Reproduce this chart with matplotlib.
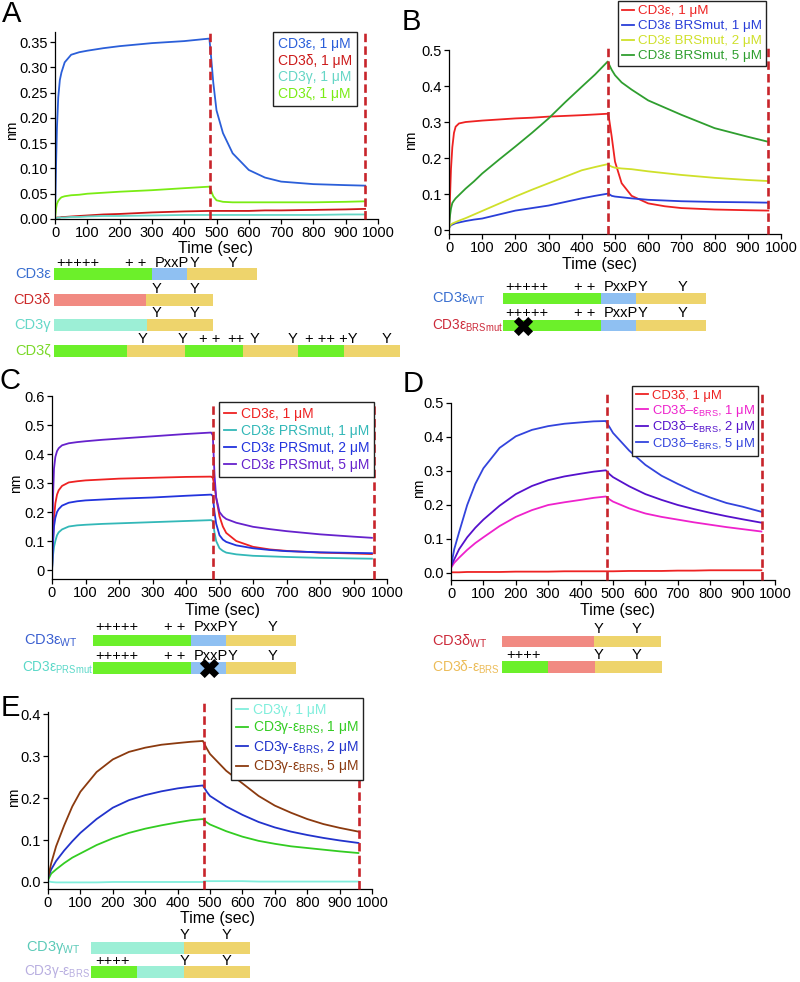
import numpy as np
import matplotlib
matplotlib.use('Agg')
import matplotlib.pyplot as plt
from matplotlib.ticker import MultipleLocator, FormatStrFormatter

plt.rcParams['font.family'] = ['Liberation Sans', 'DejaVu Sans']
plt.rcParams['mathtext.fontset'] = 'custom'
plt.rcParams['mathtext.rm'] = 'Liberation Sans'
plt.rcParams['mathtext.it'] = 'Liberation Sans:italic'
plt.rcParams['mathtext.bf'] = 'Liberation Sans:bold'

# ---------------- data ----------------
phase_ends = [480, 960]

# Panel A
tA = [0, 3, 6, 10, 15, 20, 30, 50, 75, 100, 150, 200, 300, 400, 478, 482, 490, 500, 520, 550, 600, 650, 700, 800, 900, 960]
A_eps = [0, 0.10, 0.18, 0.24, 0.275, 0.29, 0.31, 0.325, 0.33, 0.333, 0.338, 0.342, 0.348, 0.352, 0.357, 0.33, 0.27, 0.215, 0.17, 0.13, 0.097, 0.082, 0.074, 0.069, 0.067, 0.066]
A_del = [0.002, 0.002, 0.003, 0.003, 0.003, 0.004, 0.004, 0.005, 0.006, 0.007, 0.009, 0.010, 0.013, 0.015, 0.016, 0.016, 0.016, 0.016, 0.016, 0.016, 0.016, 0.017, 0.017, 0.018, 0.019, 0.020]
A_gam = [0.002, 0.002, 0.002, 0.003, 0.003, 0.003, 0.003, 0.004, 0.004, 0.005, 0.006, 0.006, 0.007, 0.008, 0.008, 0.008, 0.008, 0.008, 0.008, 0.008, 0.008, 0.008, 0.008, 0.008, 0.009, 0.009]
A_zet = [0, 0.02, 0.03, 0.036, 0.04, 0.043, 0.045, 0.047, 0.048, 0.05, 0.052, 0.054, 0.057, 0.061, 0.064, 0.058, 0.045, 0.037, 0.034, 0.033, 0.033, 0.033, 0.033, 0.033, 0.034, 0.035]
A_labels = ['CD3ε, 1 μM', 'CD3δ, 1 μM', 'CD3γ, 1 μM', 'CD3ζ, 1 μM']

# Panel B
tB = [0, 3, 6, 10, 15, 20, 30, 50, 75, 100, 150, 200, 250, 300, 350, 400, 440, 478, 482, 490, 500, 520, 550, 600, 650, 700, 800, 900, 962]
B_eps = [0, 0.09, 0.17, 0.23, 0.27, 0.287, 0.296, 0.300, 0.302, 0.304, 0.307, 0.310, 0.312, 0.315, 0.317, 0.319, 0.321, 0.323, 0.31, 0.26, 0.19, 0.13, 0.095, 0.074, 0.066, 0.061, 0.057, 0.055, 0.054]
B_brs1 = [0.005, 0.01, 0.013, 0.015, 0.017, 0.019, 0.021, 0.025, 0.029, 0.032, 0.043, 0.054, 0.061, 0.068, 0.078, 0.088, 0.095, 0.101, 0.1, 0.095, 0.093, 0.091, 0.088, 0.084, 0.082, 0.08, 0.078, 0.077, 0.076]
B_brs2 = [0.005, 0.012, 0.015, 0.018, 0.02, 0.022, 0.026, 0.033, 0.043, 0.053, 0.073, 0.093, 0.112, 0.13, 0.148, 0.166, 0.175, 0.183, 0.18, 0.176, 0.173, 0.171, 0.169, 0.163, 0.158, 0.153, 0.145, 0.139, 0.136]
B_brs5 = [0.01, 0.04, 0.06, 0.075, 0.082, 0.088, 0.097, 0.115, 0.135, 0.157, 0.195, 0.232, 0.27, 0.31, 0.355, 0.398, 0.432, 0.468, 0.46, 0.445, 0.43, 0.41, 0.39, 0.36, 0.34, 0.32, 0.283, 0.259, 0.245]
B_labels = ['CD3ε, 1 μM', 'CD3ε BRSmut, 1 μM', 'CD3ε BRSmut, 2 μM', 'CD3ε BRSmut, 5 μM']

# Panel C
tC = [0, 3, 6, 10, 15, 20, 30, 50, 75, 100, 150, 200, 300, 400, 475, 480, 485, 490, 500, 510, 520, 550, 600, 650, 700, 800, 900, 955]
C_eps = [0, 0.1, 0.18, 0.23, 0.26, 0.275, 0.29, 0.302, 0.306, 0.309, 0.312, 0.315, 0.318, 0.321, 0.322, 0.318, 0.29, 0.25, 0.185, 0.15, 0.128, 0.1, 0.08, 0.071, 0.066, 0.06, 0.057, 0.055]
C_prs1 = [0, 0.05, 0.08, 0.1, 0.12, 0.13, 0.14, 0.15, 0.154, 0.156, 0.159, 0.161, 0.165, 0.169, 0.172, 0.168, 0.13, 0.1, 0.075, 0.066, 0.06, 0.054, 0.049, 0.047, 0.045, 0.042, 0.04, 0.039]
C_prs2 = [0, 0.09, 0.15, 0.18, 0.2, 0.21, 0.222, 0.232, 0.237, 0.24, 0.243, 0.246, 0.25, 0.256, 0.26, 0.255, 0.2, 0.16, 0.12, 0.105, 0.097, 0.085, 0.075, 0.069, 0.065, 0.061, 0.059, 0.058]
C_prs5 = [-0.03, 0.25, 0.35, 0.39, 0.41, 0.42, 0.43, 0.437, 0.441, 0.444, 0.449, 0.453, 0.461, 0.469, 0.474, 0.465, 0.33, 0.25, 0.2, 0.185, 0.176, 0.163, 0.149, 0.141, 0.134, 0.123, 0.115, 0.111]
C_labels = ['CD3ε, 1 μM', 'CD3ε PRSmut, 1 μM', 'CD3ε PRSmut, 2 μM', 'CD3ε PRSmut, 5 μM']

# Panel D
tD = [0, 10, 25, 50, 75, 100, 150, 200, 250, 300, 350, 400, 440, 478, 482, 490, 500, 550, 600, 650, 700, 750, 800, 850, 900, 958]
D_del = [0.002, 0.002, 0.002, 0.003, 0.003, 0.003, 0.003, 0.004, 0.004, 0.004, 0.005, 0.005, 0.005, 0.005, 0.005, 0.005, 0.005, 0.006, 0.006, 0.006, 0.007, 0.007, 0.008, 0.008, 0.008, 0.008]
D_brs1 = [0.015, 0.03, 0.045, 0.068, 0.088, 0.105, 0.138, 0.165, 0.185, 0.2, 0.208, 0.215, 0.221, 0.225, 0.222, 0.216, 0.21, 0.19, 0.175, 0.165, 0.157, 0.149, 0.142, 0.135, 0.129, 0.122]
D_brs2 = [0.02, 0.04, 0.07, 0.105, 0.133, 0.157, 0.198, 0.232, 0.256, 0.273, 0.284, 0.292, 0.298, 0.302, 0.298, 0.29, 0.282, 0.255, 0.232, 0.215, 0.2, 0.188, 0.177, 0.167, 0.158, 0.148]
D_brs5 = [0.02, 0.07, 0.12, 0.2, 0.262, 0.308, 0.368, 0.402, 0.421, 0.432, 0.439, 0.443, 0.446, 0.447, 0.44, 0.428, 0.412, 0.36, 0.318, 0.286, 0.262, 0.24, 0.222, 0.206, 0.195, 0.18]
D_labels = ['CD3δ, 1 μM', 'CD3δ–ε$_{\\mathrm{BRS}}$, 1 μM', 'CD3δ–ε$_{\\mathrm{BRS}}$, 2 μM', 'CD3δ–ε$_{\\mathrm{BRS}}$, 5 μM']

# Panel E
tE = [0, 10, 25, 50, 75, 100, 150, 200, 250, 300, 350, 400, 440, 478, 482, 490, 500, 550, 600, 650, 700, 750, 800, 850, 900, 958]
E_gam = [0.002, 0.0, -0.001, -0.001, -0.001, -0.001, -0.001, 0, 0, 0, 0, 0, 0, 0, 0.002, 0.002, 0.002, 0.002, 0.002, 0.001, 0.001, 0.001, 0.001, 0.001, 0.001, 0.001]
E_brs1 = [0.005, 0.02, 0.03, 0.045, 0.058, 0.068, 0.088, 0.104, 0.117, 0.127, 0.135, 0.142, 0.147, 0.15, 0.147, 0.142, 0.137, 0.121, 0.108, 0.098, 0.091, 0.085, 0.081, 0.077, 0.073, 0.069]
E_brs2 = [0.01, 0.03, 0.05, 0.075, 0.097, 0.117, 0.15, 0.177, 0.195, 0.207, 0.216, 0.223, 0.227, 0.23, 0.225, 0.215, 0.205, 0.18, 0.16, 0.143, 0.13, 0.12, 0.112, 0.105, 0.099, 0.093]
E_brs5 = [0.01, 0.045, 0.085, 0.135, 0.18, 0.215, 0.262, 0.292, 0.31, 0.32, 0.327, 0.331, 0.334, 0.336, 0.33, 0.318, 0.305, 0.265, 0.235, 0.205, 0.182, 0.165, 0.15, 0.138, 0.129, 0.12]
E_labels = ['CD3γ, 1 μM', 'CD3γ-ε$_{\\mathrm{BRS}}$, 1 μM', 'CD3γ-ε$_{\\mathrm{BRS}}$, 2 μM', 'CD3γ-ε$_{\\mathrm{BRS}}$, 5 μM']

# Domain schematics (segment lengths in schematic units, and domain types)
eps_len, eps_dom = [98, 35, 70], ['brs', 'prs', 'tail']
del_len, del_dom = [92, 67], ['del', 'tail']
gam_len, gam_dom = [93, 66], ['gam', 'tail']
zet_len, zet_dom = [73, 58, 58, 55, 46, 56], ['brs', 'tail', 'brs', 'tail', 'brs', 'tail']
delbrs_len, delbrs_dom = [46, 47, 67], ['brs', 'del', 'tail']
gambrs_len, gambrs_dom = [46, 47, 66], ['brs', 'gam', 'tail']

eps_motifs = [(2, '+++++', 'left'), (71, '+ +', 'left'), (101, 'PxxP', 'left'), (140, 'Y', 'center'), (179, 'Y', 'center')]
del_motifs = [(102, 'Y', 'center'), (141, 'Y', 'center')]
zet_motifs = [(89, 'Y', 'center'), (128, 'Y', 'center'), (145, '+ +', 'left'), (173, '++', 'left'),
              (201, 'Y', 'center'), (239, 'Y', 'center'), (251, '+ ++ +Y', 'left'), (333, 'Y', 'center')]
delD_motifs = [(96, 'Y', 'center'), (135, 'Y', 'center')]
brs4_motif = [(4, '++++', 'left')]
gamE_motifs = [(94, 'Y', 'center'), (135, 'Y', 'center')]

DOM = {'brs': '#6cf02a', 'prs': '#8fc0f2', 'tail': '#eed46c', 'del': '#f18a82', 'gam': '#9cefd6'}

# ---------------- figure ----------------
W, H = 800, 982
fig = plt.figure(figsize=(8, 9.82), dpi=100)


def rect(l, t, r, b):
    return [l / W, 1 - b / H, (r - l) / W, (b - t) / H]


ov = fig.add_axes([0, 0, 1, 1])
ov.set_xlim(0, W)
ov.set_ylim(H, 0)
ov.axis('off')

DASH = '#c8242b'
TICK_FS = 10.5


def panel(box, ylim, ystep, fmt, t, series, colors, labels, dash_top, leg_xy, leg_kw, handles=True):
    ax = fig.add_axes(rect(*box))
    for y, c, lab in zip(series, colors, labels):
        ax.plot(t, y, color=c, lw=1.3, label=lab, solid_joinstyle='round')
    ax.vlines(phase_ends, ylim[0], dash_top, colors=DASH, linestyles=(0, (3.2, 1.6)), lw=1.9, clip_on=False, zorder=4)
    ax.set_xlim(0, 1000)
    ax.set_ylim(*ylim)
    ax.xaxis.set_major_locator(MultipleLocator(100))
    ax.yaxis.set_major_locator(MultipleLocator(ystep))
    if fmt == 'g':
        ax.yaxis.set_major_formatter(plt.FuncFormatter(lambda v, p: '0' if abs(v) < 1e-9 else f'{v:g}'))
    else:
        ax.yaxis.set_major_formatter(FormatStrFormatter(fmt))
    for s in ['top', 'right']:
        ax.spines[s].set_visible(False)
    for s in ['left', 'bottom']:
        ax.spines[s].set_linewidth(0.9)
    ax.tick_params(direction='out', length=3.5, width=0.9, labelsize=TICK_FS, pad=1.5)
    kw = dict(loc='upper left', bbox_to_anchor=(leg_xy[0] / W, 1 - leg_xy[1] / H), bbox_transform=fig.transFigure,
              frameon=True, fancybox=False, edgecolor='#222222', framealpha=1, borderaxespad=0,
              labelcolor='linecolor', fontsize=10)
    if handles:
        kw.update(handlelength=0.9, handletextpad=0.3)
    else:
        kw.update(handlelength=0, handletextpad=0)
    kw.update(leg_kw)
    leg = ax.legend(**kw)
    leg.get_frame().set_linewidth(1.0)
    if not handles:
        for h in leg.legend_handles:
            h.set_visible(False)
    return ax


# Panel A
panel((55, 32, 378, 219), (0, 0.37), 0.05, '%.2f', tA, [A_eps, A_del, A_gam, A_zet],
      ['#2b5fd9', '#cc1a1a', '#66d6c6', '#7aec14'], A_labels, 0.37, (273, 32),
      dict(labelspacing=0.2, borderpad=0.35), handles=False)
# Panel B
panel((449, 50, 781, 234), (-0.011, 0.5), 0.1, 'g', tB, [B_eps, B_brs1, B_brs2, B_brs5],
      ['#ee2222', '#2a3fd8', '#cfe02a', '#2f9e2f'], B_labels, 0.514, (618, 1),
      dict(labelspacing=0.2, borderpad=0.3, fontsize=9.6))
# Panel C
panel((52, 396, 387, 579), (-0.031, 0.6), 0.1, 'g', tC, [C_eps, C_prs1, C_prs2, C_prs5],
      ['#ee2222', '#33b8b8', '#2233dd', '#6622cc'], C_labels, 0.579, (219, 402),
      dict(labelspacing=0.22, borderpad=0.35))
# Panel D
panel((451, 403, 775, 580), (-0.0206, 0.5), 0.1, '%.1f', tD, [D_del, D_brs1, D_brs2, D_brs5],
      ['#ee2222', '#ee22cc', '#5511cc', '#3344dd'], D_labels, 0.532, (632, 386),
      dict(labelspacing=0.05, borderpad=0.3, fontsize=9.4))
# Panel E
panel((48, 712, 372, 889), (-0.0167, 0.405), 0.1, '%.1f', tE, [E_gam, E_brs1, E_brs2, E_brs5],
      ['#80eedc', '#33cc22', '#2233cc', '#8b3a0f'], E_labels, 0.426, (231, 698),
      dict(labelspacing=0.18, borderpad=0.35))

# Panel letters, axis titles
for x, y, s in [(12, 14, 'A'), (411, 22, 'B'), (10, 381, 'C'), (413, 384, 'D'), (10, 708, 'E')]:
    fig.text(x / W, 1 - y / H, s, fontsize=21, ha='center', va='center')
for x, y in [(216, 249), (600, 264), (222, 610), (617, 610), (217, 918)]:
    fig.text(x / W, 1 - y / H, 'Time (sec)', fontsize=11.5, ha='center', va='center')
for x, y in [(12, 130), (411, 140), (16, 483), (419, 488), (14, 797)]:
    fig.text(x / W, 1 - y / H, 'nm', fontsize=10, ha='center', va='center', rotation=90)


def construct(x0, yc, lengths, doms, motifs, ty, label, lx, lcolor, lalign='right', mark=None, lfs=10.5):
    lefts = x0 + np.concatenate([[0], np.cumsum(lengths)[:-1]])
    ov.barh([yc] * len(lengths), lengths, left=lefts, height=11.5, color=[DOM[d] for d in doms], linewidth=0)
    for off, txt, ha in motifs:
        ov.text(x0 + off, ty, txt, ha=ha, va='center', fontsize=10.5)
    ov.text(lx, yc, label, ha=lalign, va='center', color=lcolor, fontsize=lfs)
    if mark is not None:
        ov.scatter([x0 + mark], [yc], marker='X', s=190, color='black', linewidths=0, zorder=5)


# A schematics
construct(54, 274, eps_len, eps_dom, eps_motifs, 263, 'CD3ε', 51, '#3a6fd0')
construct(54, 300, del_len, del_dom, del_motifs, 289, 'CD3δ', 51, '#cc2a2a')
construct(54, 325, gam_len, gam_dom, del_motifs, 313, 'CD3γ', 51, '#66d8c8')
construct(54, 351, zet_len, zet_dom, zet_motifs, 339, 'CD3ζ', 51, '#7ad828')
# B schematics
construct(503, 298.5, eps_len, eps_dom, eps_motifs, 287, 'CD3ε$_{\\mathrm{WT}}$', 432, '#3a6fd0', 'left')
construct(503, 325.5, eps_len, eps_dom, eps_motifs, 313, 'CD3ε$_{\\mathrm{BRSmut}}$', 432, '#cc2a3a', 'left', mark=20, lfs=9.8)
# C schematics
construct(93, 640.5, eps_len, eps_dom, eps_motifs, 627, 'CD3ε$_{\\mathrm{WT}}$', 24, '#3a5fd0', 'left')
construct(93, 668, eps_len, eps_dom, eps_motifs, 656, 'CD3ε$_{\\mathrm{PRSmut}}$', 22, '#5ad8c8', 'left', mark=116, lfs=9.8)
# D schematics
construct(502, 641.5, del_len, del_dom, delD_motifs, 629, 'CD3δ$_{\\mathrm{WT}}$', 432, '#cc2a3a', 'left')
construct(502, 667, delbrs_len, delbrs_dom, brs4_motif + delD_motifs, 655, 'CD3δ-ε$_{\\mathrm{BRS}}$', 432, '#ecbc58', 'left', lfs=10)
# E schematics
construct(91, 948, gam_len, gam_dom, gamE_motifs, 935, 'CD3γ$_{\\mathrm{WT}}$', 26, '#5ccab8', 'left')
construct(91, 972, gambrs_len, gambrs_dom, brs4_motif + gamE_motifs, 961, 'CD3γ-ε$_{\\mathrm{BRS}}$', 24, '#b8aee0', 'left', lfs=9.8)

fig.savefig('out.png', dpi=100)
